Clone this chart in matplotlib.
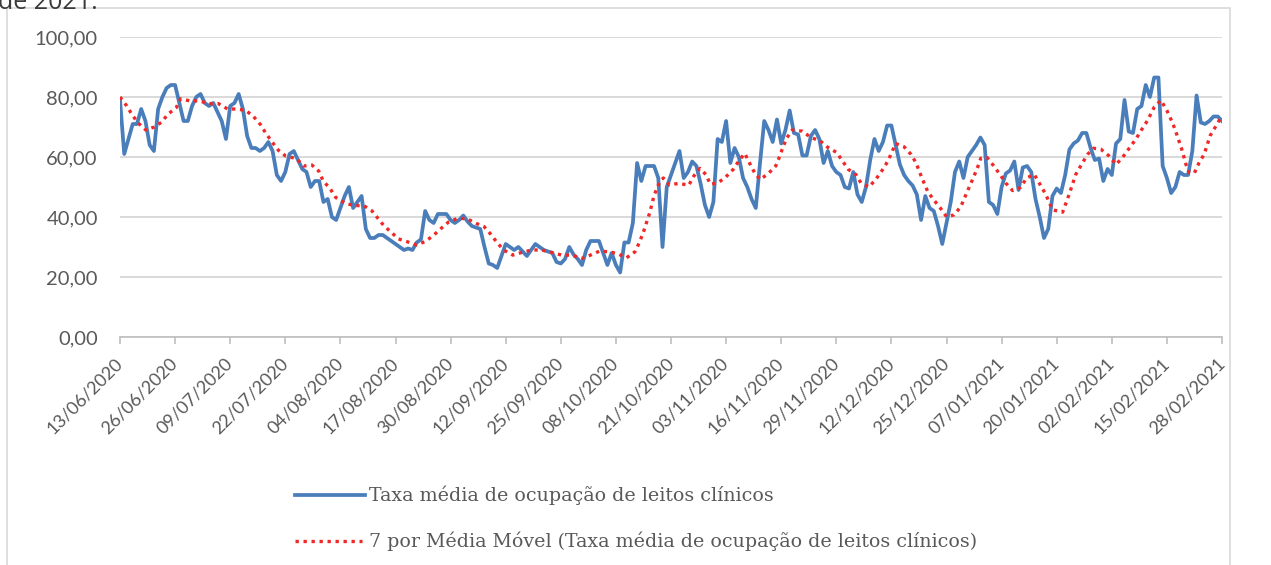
import numpy as np
import pandas as pd
import matplotlib
matplotlib.use('Agg')
import matplotlib.pyplot as plt
from matplotlib.lines import Line2D
from matplotlib.patches import Rectangle

# ---------------- data ----------------
start_date = '2020-06-13'

ocupacao = [
    79, 61, 66, 71, 71, 76, 72, 64, 62, 76,
    80, 83, 84, 84, 78, 72, 72, 77, 80, 81,
    78, 77, 78, 75, 72, 66, 77, 78, 81, 76,
    67, 63, 63, 62, 63, 65, 62, 54, 52, 55,
    61, 62, 59, 56, 55, 50, 52, 52, 45, 46,
    40, 39, 43, 47, 50, 43, 45, 47, 36, 33,
    33, 34, 34, 33, 32, 31, 30, 29, 29.5, 29,
    31.5, 32.5, 42, 39, 38, 41, 41, 41, 39, 38,
    39, 40.5, 38.5, 37, 36.5, 36, 30, 24.5, 24, 23,
    27, 31, 30, 29, 30, 28.5, 27, 29, 31, 30,
    29, 28.5, 28, 25, 24.5, 26, 30, 27.5, 26, 24,
    29, 32, 32, 32, 28, 24, 28, 24, 21.5, 31.5,
    31.5, 38, 58, 52, 57, 57, 57, 53, 30, 50,
    54, 58, 62, 53, 55, 58.5, 57, 51, 44, 40,
    45, 66, 65, 72, 58, 63, 60, 53, 50, 46,
    43, 58, 72, 69, 65, 72.5, 64.5, 69, 75.5, 68,
    67.5, 60.5, 60.5, 67, 69, 66, 58, 62, 57, 55,
    54, 50, 49.5, 55, 47.5, 45, 50, 59, 66, 62,
    65, 70.5, 70.5, 64, 57.5, 54, 52, 50.5, 47.5, 39,
    47, 43, 42, 37, 31, 38, 45, 55, 58.5, 53,
    60, 62, 64, 66.5, 64, 45, 44, 41, 50, 54.5,
    55.5, 58.5, 49, 56.5, 57, 55, 46, 40, 33, 36,
    47, 49.5, 48, 54, 62.5, 64.5, 65.5, 68, 68, 63,
    59, 59.5, 52, 56, 54, 64.5, 66, 79, 68.5, 68,
    76, 77, 84, 80, 86.5, 86.5, 57, 53, 48, 50,
    55, 54, 54, 62, 80.5, 71.5, 71, 72, 73.5, 73.5,
    72,
]

# moving-average trendline (days after start, value)
mm_dias = [
    0, 1.6, 2.9, 4.3, 6.1, 8.1, 9.8, 11.4, 13.2, 14.3, 16.5, 18.7, 20.9, 23.2,
    25.4, 27.6, 29.7, 31.5, 33.2, 34.4, 36, 37.4, 39.1, 41.6, 43.3, 45.3, 46.9,
    47.9, 49.6, 50.9, 53.1, 55.3, 57.5, 59.4, 62.2, 63.9, 65.7, 68.1, 69.9, 72,
    73.9, 75.6, 77.5, 79.7, 81.9, 84, 85.9, 87.5, 88.9, 90.5, 92.7, 94.8, 97.2,
    99.5, 101.9, 104.2, 106.6, 108.9, 111, 113.1, 115.4, 117.3, 119.5, 121.5,
    122.5, 123.4, 124.3, 125, 125.8, 126.6, 127.5, 128.2, 129.6, 131.8, 134.2,
    135.4, 136.8, 138.2, 139.3, 141.1, 142.9, 144.7, 146, 147.4, 148.6, 149.7,
    151, 152.9, 154.7, 155.7, 156.5, 157.4, 158.6, 161, 163, 165.2, 167, 169.1,
    171.8, 173.6, 174.8, 176.7, 178.3, 179.7, 181.2, 183, 185, 186.6, 187.8,
    189.2, 190.6, 192, 193.6, 195, 196.8, 198.4, 199.9, 201.3, 202.3, 203.1,
    204.6, 206, 207.6, 209, 210.6, 212.5, 213.9, 215.7, 217.1, 218.4, 220,
    222.4, 223.9, 225.5, 227.1, 228.3, 229.7, 231.4, 233.4, 235, 236.5, 238.1,
    239.7, 240.9, 242.4, 244, 245.6, 247, 248.1, 248.9, 249.7, 250.5, 251.5,
    252.3, 253.5, 254.6, 255.8, 257.2, 258.6, 260,
]
mm_valores = [
    80, 77, 74, 71.3, 69, 70, 71.6, 74.4, 76.3, 79.4, 78.7, 78.7, 77.8, 77.8,
    76, 76, 75.5, 73.5, 70.7, 67.9, 64.8, 62.2, 60.3, 59.5, 57, 57.3, 55.3,
    52.1, 49.4, 46.5, 44.6, 43.8, 43.8, 42.1, 37.2, 35, 32.7, 31.6, 30.7, 31.8,
    33.8, 36, 38.3, 39.6, 39.4, 37.9, 36.8, 34.2, 31.6, 29, 27.3, 28.2, 29,
    29, 28.2, 27.3, 27.3, 26.2, 27.3, 28.6, 28.4, 27.8, 26.4, 28.4,
    31.4, 34.6, 38.5, 41.5, 46, 49.5, 52, 53, 50.7, 51.2, 50.6,
    53.7, 56.2, 54.2, 50.9, 51.4, 53.3, 55.9, 58.7, 61.2, 57.8, 54.8,
    52.5, 54.4, 57, 60.4, 63.7, 66.5, 69, 68.6, 66.5, 65.4, 63.2, 61.5,
    55.9, 54.2, 51.4, 50, 52.5, 55.3, 58.7, 64.5, 63.4, 60.9, 58.1,
    53, 48.4, 45.7, 42.9, 40.1, 40.7, 43.5, 48.5, 53, 56.4, 59.6,
    59.8, 57.3, 54.2, 51.3, 48.8, 49.9, 53, 54.2, 50.8, 47.6, 42.4,
    41.6, 47.4, 54.2, 58.1, 60.9, 62.9, 62.6, 60.3, 57.5, 59.8, 62.9,
    66, 68.8, 72.1, 76.6, 78.9, 75.5, 72.1, 69.3, 66, 62.6, 57.5,
    54.7, 54.7, 58.1, 60.9, 67.1, 70.4, 73.8,
]

tick_labels = ['13/06/2020', '26/06/2020', '09/07/2020', '22/07/2020', '04/08/2020',
               '17/08/2020', '30/08/2020', '12/09/2020', '25/09/2020', '08/10/2020',
               '21/10/2020', '03/11/2020', '16/11/2020', '29/11/2020', '12/12/2020',
               '25/12/2020', '07/01/2021', '20/01/2021', '02/02/2021', '15/02/2021',
               '28/02/2021']
y_ticks = [0, 20, 40, 60, 80, 100]
y_tick_labels = ['0,00', '20,00', '40,00', '60,00', '80,00', '100,00']

serie_label = 'Taxa média de ocupação de leitos clínicos'
mm_label = '7 por Média Móvel (Taxa média de ocupação de leitos clínicos)'

# ---------------- figure ----------------
W, H = 1271, 565
fig = plt.figure(figsize=(W / 100, H / 100), dpi=100)

def fx(px):
    return px / W

def fy(py):
    return 1 - py / H

ax = fig.add_axes([fx(120), fy(337), fx(1222) - fx(120), fy(37) - fy(337)])

t0 = pd.Timestamp(start_date)
dates = pd.date_range(t0, periods=len(ocupacao), freq='D')
mm_dates = t0 + pd.to_timedelta(np.array(mm_dias, dtype=float), unit='D')

blue = '#4A7EBB'
red = '#F02828'
grey_text = '#595959'

ax.plot(dates, ocupacao, color=blue, lw=2.7, solid_joinstyle='round', zorder=3)
ax.plot(mm_dates, mm_valores, color=red, lw=2.4, linestyle=(0, (1.0, 1.4)),
        dash_capstyle='butt', zorder=4)

tick_dates = pd.to_datetime(tick_labels, format='%d/%m/%Y')
ax.set_xlim(dates[0], dates[-1])
ax.set_ylim(0, 100)
ax.set_xticks(tick_dates)
ax.set_xticklabels(tick_labels, rotation=45, ha='right', va='center',
                   rotation_mode='anchor', fontsize=13, color=grey_text,
                   family='Lato')
ax.set_yticks(y_ticks)
ax.set_yticklabels(y_tick_labels, fontsize=14.5, color=grey_text, family='Lato')

ax.grid(axis='y', color='#D9D9D9', lw=1.4)
ax.set_axisbelow(True)
for s in ['top', 'right', 'left']:
    ax.spines[s].set_visible(False)
ax.spines['bottom'].set_color('#BFBFBF')
ax.spines['bottom'].set_linewidth(1.2)
ax.tick_params(axis='y', length=0, pad=16)
ax.tick_params(axis='x', length=5, width=1.2, color='#BFBFBF', pad=12)

# legend (drawn below the plot)
fig.add_artist(Line2D([fx(295), fx(365)], [fy(495), fy(495)], color=blue, lw=2.7))
fig.text(fx(369), fy(495), serie_label, ha='left', va='center', fontsize=13.7,
         color=grey_text, family='DejaVu Serif')
fig.add_artist(Line2D([fx(295), fx(362)], [fy(541), fy(541)], color=red, lw=2.4,
                      linestyle=(0, (1.0, 1.4)), dash_capstyle='butt'))
fig.text(fx(369), fy(541), mm_label, ha='left', va='center', fontsize=13.7,
         color=grey_text, family='DejaVu Serif')

# chart frame
fig.add_artist(Rectangle((fx(7), fy(575)), fx(1230) - fx(7), fy(8) - fy(575),
                         transform=fig.transFigure, fill=False,
                         edgecolor='#D9D9D9', lw=1.2))

# cut-off text from the surrounding page
fig.text(fx(-2), fy(9), 'de 2021.', ha='left', va='baseline', fontsize=18,
         color='#3A3A3A', family='Open Sans')

fig.savefig('out.png', dpi=100)
